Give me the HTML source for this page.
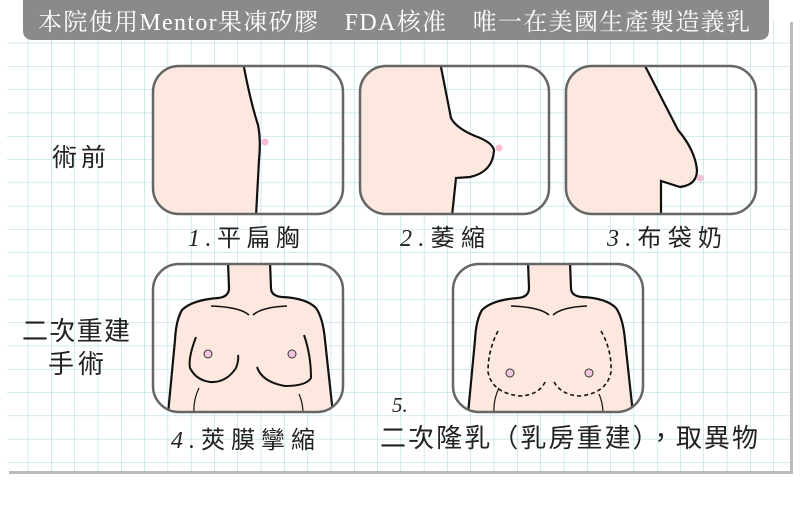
<!DOCTYPE html>
<html><head><meta charset="utf-8"><style>
html,body{margin:0;padding:0;width:800px;height:508px;background:#fff;overflow:hidden}
svg{display:block}
text{font-family:"Liberation Sans","Noto Sans CJK TC",sans-serif;fill:#222}
</style></head><body>
<svg width="800" height="508" viewBox="0 0 800 508" xmlns="http://www.w3.org/2000/svg">
<defs>
<pattern id="g" x="5" y="20" width="23.3" height="23.3" patternUnits="userSpaceOnUse">
<path d="M23.3 0V23.3M0 23.3H23.3" stroke="#a6d4e2" stroke-width="1" fill="none"/>
</pattern>
<clipPath id="c1"><rect x="153" y="66" width="190" height="148" rx="26"/></clipPath>
<clipPath id="c2"><rect x="360" y="66" width="189" height="148" rx="26"/></clipPath>
<clipPath id="c3"><rect x="566" y="66" width="190" height="148" rx="26"/></clipPath>
<clipPath id="c4"><rect x="153" y="264" width="190" height="148" rx="26"/></clipPath>
<clipPath id="c5"><rect x="453" y="264" width="190" height="148" rx="26"/></clipPath>
<g id="torso">
<path d="M228 262 L229 288 Q229 297 218 298 Q192 300 182 310 Q176 320 175 340 L168 414 L333 414 L325 340 Q323 318 316 308 Q306 298 282 297 Q271 296 271 288 L270 262 Z" fill="#fce8df"/>
<path d="M228 262 L229 288 Q229 297 218 298 Q192 300 182 310 Q176 320 175 340 L168 414" fill="none" stroke="#111" stroke-width="2.2"/>
<path d="M270 262 L271 288 Q271 296 282 297 Q306 298 316 308 Q323 318 325 340 L333 414" fill="none" stroke="#111" stroke-width="2.2"/>
<path d="M211 306 Q240 307 249 315 M253 315 Q262 307 287 306" fill="none" stroke="#111" stroke-width="1.6"/>
<path d="M199 388 Q193 400 194 414 M299 394 Q303 403 303 414" fill="none" stroke="#111" stroke-width="1.2"/>
</g>
</defs>
<rect x="9" y="22" width="784" height="452" fill="#bbb"/>
<rect x="7" y="20" width="783" height="451" fill="#fff"/>
<rect x="7" y="20" width="783" height="451" fill="url(#g)"/>
<path d="M23 0H769V30Q769 40 759 40H33Q23 40 23 30Z" fill="#8a8a8a"/>
<text x="38" y="30" font-size="24" textLength="712" lengthAdjust="spacing" style="fill:#fff;font-family:'Liberation Serif','Noto Serif CJK SC',serif">本院使用Mentor果凍矽膠　FDA核准　唯一在美國生產製造義乳</text>

<g clip-path="url(#c1)">
<path d="M150 60 L243 60 Q250 100 258 125 Q261 140 259 160 L256 220 L150 220Z" fill="#fce8df"/>
<path d="M243 62 Q250 100 258 125 Q261 140 259 160 L256 216" fill="none" stroke="#111" stroke-width="2.2"/>
<circle cx="265" cy="142" r="3.5" fill="#f6bcd3"/>
</g>
<rect x="153" y="66" width="190" height="148" rx="26" fill="none" stroke="#666" stroke-width="2.5"/>
<g clip-path="url(#c2)">
<path d="M355 60 L440 60 L451 118 Q456 128 475 136 Q492 142 494 150 Q493 172 470 177 L456 178 L452 220 L355 220Z" fill="#fce8df"/>
<path d="M440 62 L451 118 Q456 128 475 136 Q492 142 494 150 Q493 172 470 177 L456 178 L452 216" fill="none" stroke="#111" stroke-width="2.2"/>
<circle cx="499" cy="148" r="3.5" fill="#f6bcd3"/>
</g>
<rect x="360" y="66" width="189" height="148" rx="26" fill="none" stroke="#666" stroke-width="2.5"/>
<g clip-path="url(#c3)">
<path d="M560 60 L643 60 L678 130 Q695 150 697 170 Q697 185 680 187 L661 181 L661 220 L560 220Z" fill="#fce8df"/>
<path d="M643 62 L678 130 Q695 150 697 170 Q697 185 680 187 L661 181 L661 216" fill="none" stroke="#111" stroke-width="2.2"/>
<circle cx="700" cy="178" r="3.5" fill="#f6bcd3"/>
</g>
<rect x="566" y="66" width="190" height="148" rx="26" fill="none" stroke="#666" stroke-width="2.5"/>
<g clip-path="url(#c4)">
<use href="#torso"/>
<path d="M196 337 Q188 358 190 368 Q196 380 210 382 Q226 383 236 368 Q239 360 238 355" fill="none" stroke="#111" stroke-width="2"/>
<path d="M257 367 Q262 382 285 386 Q306 386 311 378 Q311 355 304 335" fill="none" stroke="#111" stroke-width="2"/>
<circle cx="208" cy="354" r="4" fill="#f3c6de" stroke="#333" stroke-width="1"/>
<circle cx="292" cy="354" r="4" fill="#f3c6de" stroke="#333" stroke-width="1"/>
</g>
<rect x="153" y="264" width="190" height="148" rx="26" fill="none" stroke="#666" stroke-width="2.5"/>
<g clip-path="url(#c5)">
<use href="#torso" transform="translate(300,0)"/>
<path d="M498 331 Q488 350 488 372 Q492 393 520 396 Q540 395 546 380" fill="none" stroke="#111" stroke-width="1.6" stroke-dasharray="4,3"/>
<path d="M601 331 Q612 350 611 372 Q607 393 580 396 Q560 395 553 380" fill="none" stroke="#111" stroke-width="1.6" stroke-dasharray="4,3"/>
<circle cx="510" cy="373" r="4" fill="#f3c6de" stroke="#333" stroke-width="1"/>
<circle cx="589" cy="373" r="4" fill="#f3c6de" stroke="#333" stroke-width="1"/>
</g>
<rect x="453" y="264" width="190" height="148" rx="26" fill="none" stroke="#666" stroke-width="2.5"/>

<text x="52" y="166" font-size="25" textLength="54" lengthAdjust="spacing">術前</text>
<text x="22" y="340" font-size="26" textLength="108" lengthAdjust="spacing">二次重建</text>
<text x="48" y="373" font-size="26" textLength="56" lengthAdjust="spacing">手術</text>
<text x="188" y="246" font-size="24" textLength="112" lengthAdjust="spacing"><tspan font-style="italic" style="font-family:'Liberation Serif',serif">1.</tspan>平扁胸</text>
<text x="400" y="246" font-size="24" textLength="85" lengthAdjust="spacing"><tspan font-style="italic" style="font-family:'Liberation Serif',serif">2.</tspan>萎縮</text>
<text x="607" y="246" font-size="24" textLength="115" lengthAdjust="spacing"><tspan font-style="italic" style="font-family:'Liberation Serif',serif">3.</tspan>布袋奶</text>
<text x="171" y="448" font-size="24" textLength="144" lengthAdjust="spacing"><tspan font-style="italic" style="font-family:'Liberation Serif',serif">4.</tspan>莢膜攣縮</text>
<text x="392" y="412" font-size="21" font-style="italic" style="font-family:'Liberation Serif',serif">5.</text>
<text x="380" y="447" font-size="26" textLength="378" lengthAdjust="spacing">二次隆乳（乳房重建），取異物</text>
</svg>
</body></html>
